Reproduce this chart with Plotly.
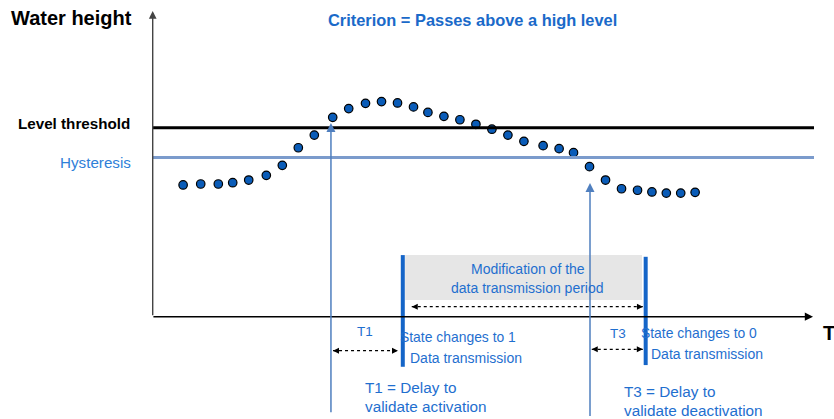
import plotly.graph_objects as go

# Sampled water height over time (time in steps, height in cm)
time_steps = [1.9, 3.0, 4.1, 5.0, 6.0, 7.1, 8.1, 9.1, 10.1, 11.25, 12.25, 13.3, 14.3,
              15.3, 16.3, 17.2, 18.2, 19.2, 20.2, 21.2, 22.2, 23.2, 24.4, 25.4,
              26.3, 27.3, 28.3, 29.3, 30.3, 31.2, 32.1, 33.0, 33.9]
water_height = [69.7, 70.2, 70.2, 70.9, 72.3, 74.8, 80.1, 89.4, 96.1, 105.5, 110.1, 112.9,
                113.8, 113.1, 111.0, 108.1, 106.0, 104.2, 101.8, 99.2, 96.1, 92.8, 90.5,
                88.9, 86.8, 79.4, 72.3, 67.7, 66.9, 66.0, 65.4, 65.4, 65.8]

LEVEL_THRESHOLD = 100.0
HYSTERESIS_LEVEL = 84.3

# Key instants on the time axis
T_CROSS_UP = 11.14      # level passes above threshold
T_STATE_1 = 15.63       # state changes to 1 (after T1)
T_CROSS_DOWN = 27.33    # level drops below hysteresis
T_STATE_0 = 30.81       # state changes to 0 (after T3)
T_AXIS_END = 41.27
T_LINE_END = 41.33

FONT = "Liberation Sans, Arial, sans-serif"
BLUE_TEXT = "#1f6fcf"
BLUE_DOT = "#0a5cb8"
BLUE_BAR = "#1565c8"
BLUE_ARROW = "#4f7fbf"
HYST_COLOR = "#7b9bcc"

fig = go.Figure()

# Threshold and hysteresis reference lines
fig.add_shape(type="line", x0=0, x1=T_LINE_END, y0=LEVEL_THRESHOLD, y1=LEVEL_THRESHOLD,
              line=dict(color="black", width=3))
fig.add_shape(type="line", x0=0, x1=T_LINE_END, y0=HYSTERESIS_LEVEL, y1=HYSTERESIS_LEVEL,
              line=dict(color=HYST_COLOR, width=3))

# Grey band for the modified transmission period
fig.add_shape(type="rect", x0=15.78, x1=30.58, y0=8.8, y1=32.6,
              fillcolor="#e6e6e6", line=dict(width=0), layer="below")

# State-change bars
fig.add_shape(type="line", x0=T_STATE_1, x1=T_STATE_1, y0=-26.5, y1=32.6,
              line=dict(color=BLUE_BAR, width=4))
fig.add_shape(type="line", x0=T_STATE_0, x1=T_STATE_0, y0=-25.6, y1=31.7,
              line=dict(color=BLUE_BAR, width=4))

# Dotted double arrows
def dotted_span(x0, x1, y):
    fig.add_shape(type="line", x0=x0, x1=x1, y0=y, y1=y,
                  line=dict(color="black", width=1.3, dash="dot"))
    for head, off in ((x0, 6), (x1, -6)):
        fig.add_annotation(x=head, y=y, ax=off, ay=0, text="", showarrow=True,
                           arrowhead=2, arrowsize=1, arrowwidth=1.2,
                           arrowcolor="black", standoff=0)

dotted_span(16.19, 30.64, 5.3)
dotted_span(T_CROSS_UP + 0.13, T_STATE_1 - 0.3, -18.0)
dotted_span(T_CROSS_DOWN + 0.11, T_STATE_0 - 0.18, -17.25)

# Axes drawn as arrows
fig.add_annotation(x=0, y=161.7, ax=0, ay=0, axref="x", ayref="y", text="",
                   showarrow=True, arrowhead=2, arrowsize=1.1, arrowwidth=1.4,
                   arrowcolor="#444444", standoff=0)
fig.add_annotation(x=T_AXIS_END, y=0, ax=-0.05, ay=0, axref="x", ayref="y", text="",
                   showarrow=True, arrowhead=2, arrowsize=1.1, arrowwidth=1.5,
                   arrowcolor="black", standoff=0)

# Vertical arrows marking crossing instants
fig.add_annotation(x=T_CROSS_UP, y=102.5, ax=T_CROSS_UP, ay=-51.3, axref="x", ayref="y",
                   text="", showarrow=True, arrowhead=2, arrowsize=1.2, arrowwidth=1.5,
                   arrowcolor=BLUE_ARROW, standoff=0)
fig.add_annotation(x=T_CROSS_DOWN, y=70.7, ax=T_CROSS_DOWN, ay=-53.4, axref="x", ayref="y",
                   text="", showarrow=True, arrowhead=2, arrowsize=1.2, arrowwidth=1.5,
                   arrowcolor=BLUE_ARROW, standoff=0)

# Water height samples
fig.add_trace(go.Scatter(x=time_steps, y=water_height, mode="markers",
                         marker=dict(size=8.5, color=BLUE_DOT,
                                     line=dict(color="black", width=1.2)),
                         hoverinfo="skip"))


def label(x, y, text, size, color=BLUE_TEXT, bold=False, anchor="left"):
    if bold:
        text = f"<b>{text}</b>"
    fig.add_annotation(x=x, y=y, text=text, showarrow=False, xanchor=anchor,
                       yanchor="middle", borderpad=0,
                       font=dict(family=FONT, size=size, color=color))


label(19.96, 157.0, "Criterion = Passes above a high level", 16.4, color="#1a6ac9",
      bold=True, anchor="center")
label(-1.23, 158.0, "Water height", 20, color="black", bold=True, anchor="right")
label(-1.36, 102.0, "Level threshold", 15.2, color="black", bold=True, anchor="right")
label(-1.28, 81.5, "Hysteresis", 15.2, color="#2f80d8", anchor="right")
label(23.45, 25.2, "Modification of the", 14, anchor="center")
label(23.45, 15.2, "data transmission period", 14, anchor="center")
label(13.25, -7.9, "T1", 13.5, anchor="center")
label(15.42, -10.6, "State changes to 1", 13.9)
label(16.04, -22.0, "Data transmission", 14)
label(13.23, -37.6, "T1 = Delay to", 15.3)
label(13.23, -47.6, "validate activation", 15.3)
label(29.1, -8.8, "T3", 13.5, anchor="center")
label(30.48, -8.8, "State changes to 0", 13.9)
label(31.09, -19.9, "Data transmission", 14)
label(29.38, -39.7, "T3 = Delay to", 15.3)
label(29.38, -49.7, "validate deactivation", 15.3)
label(41.8, -8.6, "T", 20, color="black", bold=True)

fig.update_layout(
    width=834, height=419, autosize=False,
    margin=dict(l=0, r=0, t=0, b=0),
    paper_bgcolor="white", plot_bgcolor="white",
    showlegend=False,
    xaxis=dict(range=[-9.544, 42.58], visible=False, fixedrange=True),
    yaxis=dict(range=[-54.13, 167.57], visible=False, fixedrange=True),
)

fig.write_html("out.html", config={"displayModeBar": False})
